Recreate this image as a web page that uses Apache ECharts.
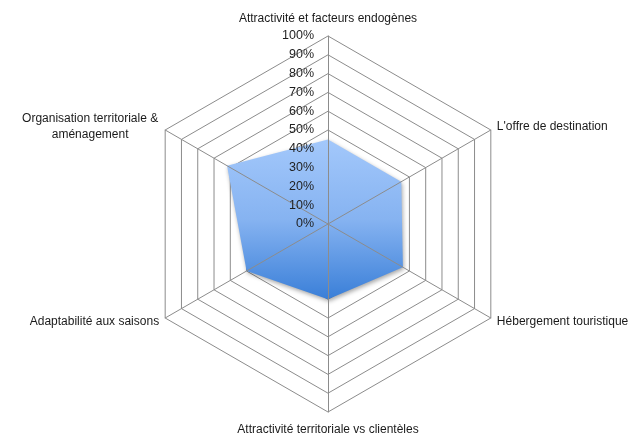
<!DOCTYPE html>
<html>
<head>
<meta charset="utf-8">
<script src="https://cdn.jsdelivr.net/npm/echarts@6/dist/echarts.min.js"></script>
<style>html,body{margin:0;padding:0;background:#fff;}#c{width:633px;height:435px;}</style>
</head>
<body>
<div id="c"></div>
<script>
// Categories in clockwise order starting from the top
var categories = [
  "Attractivité et facteurs endogènes",
  "L'offre de destination",
  "Hébergement touristique",
  "Attractivité territoriale vs clientèles",
  "Adaptabilité aux saisons",
  "Organisation territoriale & aménagement"
];
var values = [45, 45, 46, 40, 50, 62];
var tickMin = 0, tickMax = 100, tickStep = 10;

// ECharts places indicators counter-clockwise; reorder to get clockwise layout
var order = [0, 5, 4, 3, 2, 1];
var indicators = order.map(function (i) { return { name: categories[i], max: tickMax, min: tickMin }; });
var orderedValues = order.map(function (i) { return values[i]; });

var FONT = '"Liberation Sans", Arial, sans-serif';
var center = [328, 224];
var radius = 188;

var chart = echarts.init(document.getElementById('c'), null, { renderer: 'canvas' });
chart.setOption({
  animation: false,
  backgroundColor: '#ffffff',
  grid: { left: center[0], top: center[1] - radius, height: radius, width: 10, containLabel: false, z: 10 },
  xAxis: { type: 'value', show: false },
  yAxis: {
    type: 'value', min: tickMin, max: tickMax, interval: tickStep, position: 'left', z: 10,
    axisLine: { show: false }, axisTick: { show: false }, splitLine: { show: false },
    axisLabel: { margin: 14, fontSize: 12.5, color: '#1f1f1f', fontFamily: FONT, formatter: '{value}%' }
  },
  radar: [{
    center: center, radius: radius, startAngle: 90, shape: 'polygon', splitNumber: 10,
    indicator: indicators,
    nameGap: 7,
    axisName: {
      color: '#1a1a1a', fontSize: 12, fontFamily: FONT,
      formatter: function (name) {
        if (name.indexOf('Organisation') === 0) {
          return '{o|Organisation territoriale &}\n{o|aménagement}';
        }
        if (name === categories[0]) return '{t|' + name + '}';
        if (name === categories[3]) return '{b|' + name + '}';
        return name;
      },
      rich: {
        o: { width: 138, align: 'center', fontSize: 12, fontFamily: FONT, color: '#1a1a1a', lineHeight: 16 },
        t: { fontSize: 12, fontFamily: FONT, color: '#1a1a1a', padding: [0, 0, 4, 0] },
        b: { fontSize: 12, fontFamily: FONT, color: '#1a1a1a', padding: [5, 0, 0, 0] }
      }
    },
    splitLine: { lineStyle: { color: '#8c8c8c', width: 1 } },
    splitArea: { show: false },
    axisLine: { show: false },
    axisTick: { show: false },
    axisLabel: { show: false }
  }, {
    center: center, radius: radius, startAngle: 90, shape: 'polygon', splitNumber: 10,
    indicator: indicators,
    z: 5,
    axisName: { show: false },
    splitLine: { show: false },
    splitArea: { show: false },
    axisLine: { show: true, lineStyle: { color: '#8c8c8c', width: 1 } },
    axisTick: { show: false },
    axisLabel: { show: false }
  }],
  series: [{
    type: 'radar',
    radarIndex: 0,
    symbol: 'none',
    lineStyle: { width: 0, color: 'rgba(0,0,0,0)' },
    areaStyle: {
      opacity: 1,
      color: new echarts.graphic.LinearGradient(0, 0, 0, 1, [
        { offset: 0, color: '#a3c8fb' },
        { offset: 0.5, color: '#86b3f1' },
        { offset: 1, color: '#3a7fd8' }
      ]),
      shadowBlur: 4, shadowColor: 'rgba(0,0,0,0.35)', shadowOffsetX: 1, shadowOffsetY: 2
    },
    data: [{ value: orderedValues }]
  }]
});
</script>
</body>
</html>
